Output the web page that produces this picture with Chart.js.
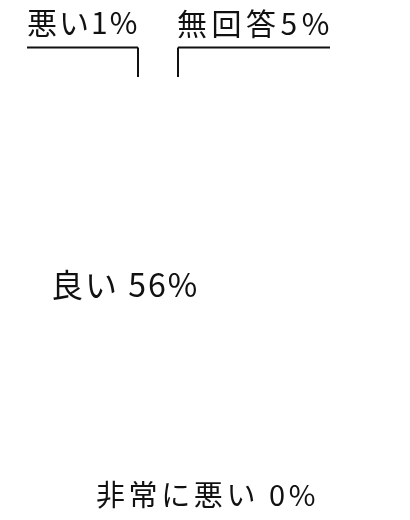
<!DOCTYPE html>
<html>
<head>
<meta charset="utf-8">
<script src="https://cdn.jsdelivr.net/npm/chart.js@4"></script>
<style>
html,body{margin:0;padding:0;background:#fff;}
#wrap{width:410px;height:520px;}
</style>
</head>
<body>
<div id="wrap"><canvas id="c"></canvas></div>
<script>
// Data
const categories = ['良い', '悪い', '非常に悪い', '無回答'];
const percents = [56, 1, 0, 5];

// Label layout (text styling/placement only)
const labelLayout = {
  '良い':     {x: 51,  y: 285, size: 32, spacing: 2,   sep: ' '},
  '悪い':     {x: 27,  y: 23,  size: 30, spacing: 2,   sep: '',  line: {x0: 27, x1: 138, y: 47.5, vx: 138, vy: 77}},
  '非常に悪い': {x: 96,  y: 495, size: 29, spacing: 3.6, sep: ' '},
  '無回答':   {x: 177, y: 24,  size: 30, spacing: 4.5, sep: '',  line: {x0: 178, x1: 330, y: 47.5, vx: 178, vy: 77}}
};

const labelPlugin = {
  id: 'pieLabels',
  afterDraw(chart) {
    const ctx = chart.ctx;
    const labels = chart.data.labels;
    const vals = chart.data.datasets[0].data;
    ctx.save();
    labels.forEach((lab, i) => {
      const L = labelLayout[lab];
      if (!L) return;
      const text = lab + L.sep + vals[i] + '%';
      ctx.font = '400 ' + L.size + 'px "Noto Sans CJK JP", sans-serif';
      ctx.fillStyle = '#111';
      ctx.textAlign = 'left';
      ctx.textBaseline = 'middle';
      if ('letterSpacing' in ctx) ctx.letterSpacing = L.spacing + 'px';
      ctx.fillText(text, L.x, L.y);
      if (L.line) {
        ctx.strokeStyle = '#111';
        ctx.lineWidth = 2;
        ctx.beginPath();
        ctx.moveTo(L.line.x0, L.line.y);
        ctx.lineTo(L.line.x1, L.line.y);
        ctx.moveTo(L.line.vx, L.line.y);
        ctx.lineTo(L.line.vx, L.line.vy);
        ctx.stroke();
      }
    });
    ctx.restore();
  }
};

new Chart(document.getElementById('c'), {
  type: 'pie',
  data: {
    labels: categories,
    datasets: [{
      data: percents,
      backgroundColor: '#ffffff',
      borderColor: '#ffffff',
      borderWidth: 0
    }]
  },
  options: {
    responsive: true,
    maintainAspectRatio: false,
    animation: false,
    layout: {padding: {top: 80, bottom: 60, left: 10, right: 10}},
    plugins: {
      legend: {display: false},
      tooltip: {enabled: false}
    }
  },
  plugins: [labelPlugin]
});
</script>
</body>
</html>
